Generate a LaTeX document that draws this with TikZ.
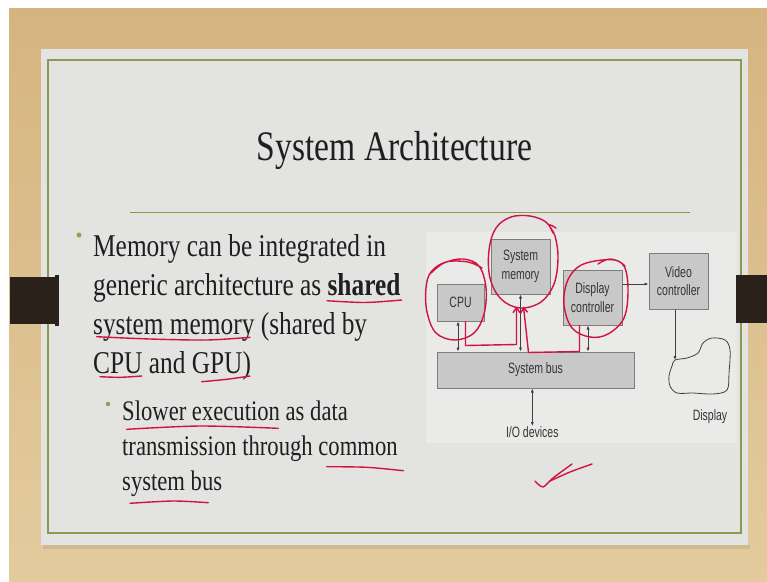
\documentclass[tikz,border=0pt]{standalone}
\usepackage{fontspec}
\setmainfont{Liberation Serif}[FakeStretch=0.8]
\newfontfamily\diagfont{Liberation Sans}[FakeStretch=0.7]
\usetikzlibrary{arrows.meta,calc}
\definecolor{wood}{HTML}{D6B47F}
\definecolor{woodlt}{HTML}{E3CB9E}
\definecolor{slide}{HTML}{E3E3E1}
\definecolor{panel}{HTML}{EAEAE9}
\definecolor{rule}{HTML}{8A9C4C}
\definecolor{bullet}{HTML}{8FA646}
\definecolor{tab}{HTML}{2A211B}
\definecolor{ink}{HTML}{1F1F1F}
\definecolor{pen}{HTML}{D0143F}
\definecolor{boxfill}{HTML}{C8C8C8}
\definecolor{boxline}{HTML}{7D7D7D}
\definecolor{wire}{HTML}{404040}
\tikzset{
  >=Latex,
  every node/.style={text=ink,inner sep=0pt},
  box/.style={draw=boxline,fill=boxfill,line width=1pt,align=center,text=ink!90,
    font=\diagfont\fontsize{15}{18.5}\selectfont},
  lbl/.style={font=\diagfont\fontsize{15}{16}\selectfont,text=ink!90},
  body/.style={font=\fontsize{31.7}{39}\selectfont,anchor=base west},
  subbody/.style={font=\fontsize{28.3}{35}\selectfont,anchor=base west},
  bulletdot/.style={circle,fill=bullet,minimum size=5pt},
  bus/.style={{Latex[length=4pt,width=3.2pt]}-{Latex[length=4pt,width=3.2pt]},draw=wire,line width=0.75pt},
  link/.style={-{Latex[length=4pt,width=3.2pt]},draw=wire,line width=0.75pt},
  scrawl/.style={draw=pen,line width=1.4pt,line cap=round,line join=round},
  scrawlarr/.style={scrawl,-{Straight Barb[length=5pt,width=7pt]}},
}

\begin{document}
\begin{tikzpicture}[x=1pt,y=-1pt]
\useasboundingbox (0,0) rectangle (767,581);

% desk and slide
\fill[white] (0,0) rectangle (767,581);
\shade[top color=wood,bottom color=woodlt] (9,8) rectangle (767,581);
\fill[black,opacity=0.08] (43,545) rectangle (750,549);
\fill[slide] (41,49) rectangle (748,545);
\draw[rule,line width=1.5pt] (48,60) rectangle (741,533);
\fill[panel] (426,232) rectangle (737,443);

% title
\node[font=\fontsize{42}{50}\selectfont,anchor=base] (title) at (394.5,160) {System Architecture};
\draw[rule,line width=1.2pt] (130,212.5) -- (690,212.5);

% bullets
\node[bulletdot] (b1) at (79,235) {};
\foreach \txt [count=\i] in {Memory can be integrated in,generic architecture as \textbf{shared},system memory (shared by,CPU and GPU)}
  \node[body] (m\i) at (93,{256+39*(\i-1)}) {\txt};
\node[bulletdot,minimum size=4.5pt] (b2) at (108,404) {};
\foreach \txt [count=\i] in {Slower execution as data,transmission through common,system bus}
  \node[subbody] (s\i) at (122,{420+35*(\i-1)}) {\txt};

% diagram
\node[box,minimum width=47pt,minimum height=37pt] (cpu) at (460.5,302.5) {CPU};
\node[box,minimum width=59pt,minimum height=55pt] (mem) at (520.5,266.5) {System\\memory};
\node[box,minimum width=59pt,minimum height=55pt] (dc) at (592.5,297.5) {Display\\controller};
\node[box,minimum width=59pt,minimum height=56pt] (vc) at (678.5,281) {Video\\controller};
\node[box,minimum width=197pt,minimum height=36pt] (sbus) at (535.5,370) {System bus};
\node[lbl] (io) at (532.3,431.7) {I/O devices};
\node[lbl] (disp) at (710,417) {Display};

\coordinate (cpuport) at ([xshift=-2.5pt]cpu.south);
\coordinate (dcport) at ([xshift=-4.5pt]dc.south);
\coordinate (scr) at (675,360);
\draw[bus] (cpuport) -- (cpuport |- sbus.north);
\draw[bus] (mem.south) -- (mem.south |- sbus.north);
\draw[bus] (dcport) -- (dcport |- sbus.north);
\draw[bus] (sbus.south -| io.north) -- (io.north);
\draw[link] ([yshift=-3pt]vc.west -| dc.east) -- ([yshift=-3pt]vc.west);
\draw[link] (vc.south -| scr) -- (scr);

% display outline
\draw[wire,line width=0.8pt] plot[smooth cycle,tension=0.55] coordinates{
  (675,360) (687,358) (698,353) (703,343) (712,338) (725,340) (730,350) (729,373)
  (727,390) (713,394) (693,393) (677,393) (670,386) (669,376) (672,366)};

% pen marks
\draw[scrawl] plot[smooth,tension=0.6] coordinates{(431,273) (444,263) (463,259) (479,266) (486,288) (484,314) (474,333) (455,340) (436,333) (427,312) (426,288) (431,272) (446,262) (468,262) (482,268)};
\draw[scrawl] plot[smooth,tension=0.6] coordinates{(553,233) (546,222) (530,216) (511,217) (496,228) (489,250) (490,278) (501,299) (520,308) (541,302) (554,284) (558,258) (555,236) (549,225) (556,228)};
\draw[scrawl] plot[smooth,tension=0.6] coordinates{(598,264) (610,259) (624,266) (628,290) (624,318) (608,334) (590,337) (572,328) (564,305) (567,282) (578,267) (595,261) (615,260) (625,266)};
\draw[scrawlarr] ([xshift=5pt]cpu.south) -- ++(0,24) -- ++(51,-1) -- ([xshift=-4pt,yshift=-12pt]mem.south);
\draw[scrawlarr] ([xshift=-13pt]dc.south) -- ++(0,26) -- ++(-51,1) -- ([xshift=3pt,yshift=-12pt]mem.south);

% underlines
\draw[scrawl] plot[smooth] coordinates{(327,300.7) (365,302.5) (401.7,300)};
\draw[scrawl] plot[smooth] coordinates{(96.7,336.7) (150,339) (206.7,340) (250,337.3)};
\draw[scrawl] plot[smooth] coordinates{(100,376.7) (120,377.3) (141.7,376)};
\draw[scrawl] plot[smooth] coordinates{(201.7,381.7) (226.7,379.3) (250,376)};
\draw[scrawl] plot[smooth] coordinates{(126.7,429.3) (200,426) (278.3,428.3)};
\draw[scrawl] plot[smooth] coordinates{(326.7,466.7) (366.7,467.3) (403.3,470.7)};
\draw[scrawl] plot[smooth] coordinates{(130,503.3) (173.3,501) (208.3,502.7)};

% tick
\draw[scrawl] plot[smooth] coordinates{(535,481) (543,487) (553,478) (572,464)};
\draw[scrawl] plot[smooth] coordinates{(550,481) (570,472) (592,464)};

% binder tabs
\fill[tab] (10,277) rectangle (56,324);
\fill[tab] (55,275) rectangle (59,326);
\fill[tab] (736,275) rectangle (767,323);
\end{tikzpicture}
\end{document}
